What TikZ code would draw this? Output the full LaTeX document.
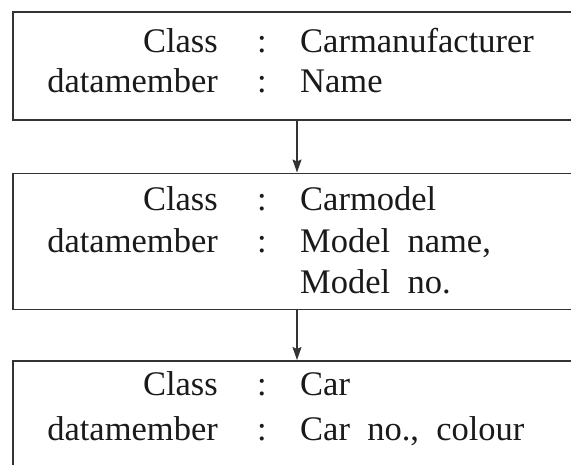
\documentclass[tikz,border=0pt]{standalone}
\usepackage{fontspec}
\setmainfont{Liberation Serif}
\usetikzlibrary{arrows.meta}
\definecolor{linec}{HTML}{333333}
\definecolor{textc}{HTML}{1A1A1A}
\begin{document}
\begin{tikzpicture}[x=1pt,y=1pt,
  box/.style={draw=linec, line width=1.5pt, rectangle, inner sep=0pt, anchor=north west},
  lab/.style={inner sep=0pt, anchor=base east, text=textc, font=\fontsize{34.5}{40}\selectfont},
  colon/.style={inner sep=0pt, anchor=base, text=textc, font=\fontsize{34.5}{40}\selectfont},
  val/.style={inner sep=0pt, anchor=base west, text=textc, font=\fontsize{34.5}{40}\selectfont},
  conn/.style={draw=linec, line width=1.4pt, -{Stealth[length=13pt,width=9pt,inset=2pt]}}]
\useasboundingbox (0,0) rectangle (571,-464);
\clip (0,0) rectangle (571,-464);
% boxes
\node[box, minimum width=570pt, minimum height=108pt] (b1) at (12,-11) {};
\node[box, minimum width=570pt, minimum height=136pt] (b2) at (12,-172.5) {};
\node[box, minimum width=570pt, minimum height=120pt] (b3) at (12,-360) {};
\coordinate (ax) at (297,0);
% connectors
\draw[conn] (b1.south -| ax) -- (b2.north -| ax);
\draw[conn] (b2.south -| ax) -- (b3.north -| ax);
% box 1 text
\node[lab] (l11) at (218,-52) {Class};
\node[colon] (c11) at (262,-52) {:};
\node[val] (v11) at (300,-52) {Carmanufacturer};
\node[lab] (l12) at (218,-92) {datamember};
\node[colon] (c12) at (262,-92) {:};
\node[val] (v12) at (300,-92) {Name};
% box 2 text
\node[lab] (l21) at (218,-210) {Class};
\node[colon] (c21) at (262,-210) {:};
\node[val] (v21) at (300,-210) {Carmodel};
\node[lab] (l22) at (218,-252) {datamember};
\node[colon] (c22) at (262,-252) {:};
\node[val] (v22) at (300,-252) {Model\ \ name,};
\node[val] (v23) at (300,-293) {Model\ \ no.};
% box 3 text
\node[lab] (l31) at (218,-395) {Class};
\node[colon] (c31) at (262,-395) {:};
\node[val] (v31) at (300,-395) {Car};
\node[lab] (l32) at (218,-440) {datamember};
\node[colon] (c32) at (262,-440) {:};
\node[val] (v32) at (300,-440) {Car\ \ no.,\ \ colour};
\end{tikzpicture}
\end{document}
